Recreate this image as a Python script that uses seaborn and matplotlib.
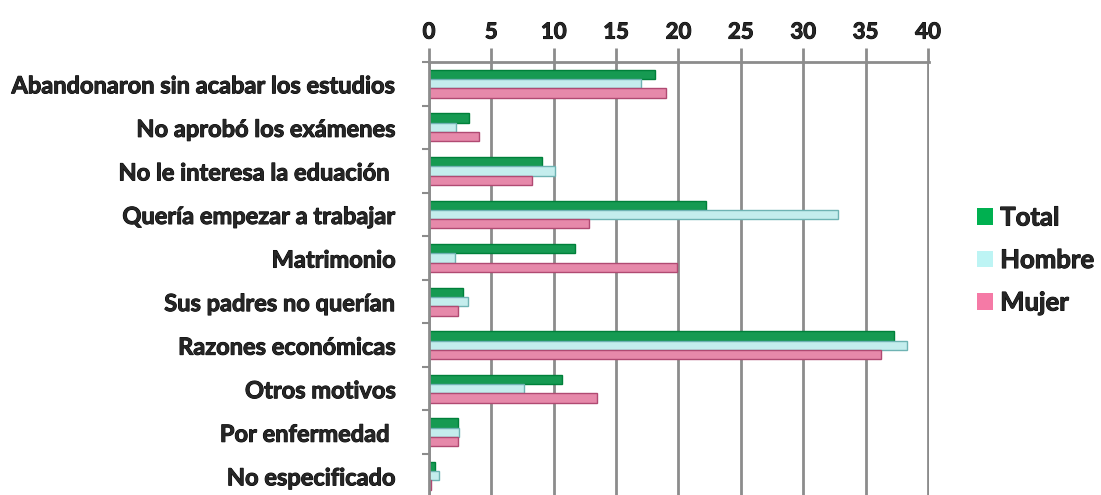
import matplotlib
matplotlib.use("Agg")
import matplotlib.pyplot as plt
import matplotlib.patheffects as pe
import seaborn as sns
import pandas as pd
from matplotlib.patches import Patch
from matplotlib.ticker import MultipleLocator, FixedLocator

# Data
motivos = [
    "Abandonaron sin acabar los estudios",
    "No aprobó los exámenes",
    "No le interesa la eduación ",
    "Quería empezar a trabajar",
    "Matrimonio",
    "Sus padres no querían",
    "Razones económicas",
    "Otros motivos",
    "Por enfermedad ",
    "No especificado",
]
total = [18.1, 3.2, 9.1, 22.2, 11.7, 2.7, 37.3, 10.7, 2.3, 0.5]
hombre = [17.0, 2.2, 10.1, 32.8, 2.1, 3.1, 38.3, 7.6, 2.4, 0.8]
mujer = [19.0, 4.0, 8.3, 12.8, 19.9, 2.3, 36.2, 13.5, 2.3, 0.2]
grupos = ["Total", "Hombre", "Mujer"]
colores = ["#00B050", "#BDF4F4", "#F57AA6"]
bordes = ["#00803A", "#6FB3B3", "#B04A72"]

df = pd.DataFrame({
    "motivo": motivos * 3,
    "valor": total + hombre + mujer,
    "grupo": [g for g in grupos for _ in motivos],
})

sns.set_style("white")
plt.rcParams["font.family"] = ["Lato", "DejaVu Sans"]
plt.rcParams["font.weight"] = "bold"

fig = plt.figure(figsize=(11.01, 4.95), dpi=100)
ax = fig.add_axes([0.3896, 0.0, 0.4541, 0.8747])

sns.barplot(data=df, y="motivo", x="valor", hue="grupo", orient="h",
            palette=colores, width=0.64, ax=ax, legend=False)

# darker outline per series, gives a bit of the 3D-bar feel
for cont, ec in zip(ax.containers, bordes):
    for bar in cont:
        bar.set_edgecolor(ec)
        bar.set_linewidth(1.0)

gris = "#8C8C8C"
ax.set_xlim(0, 40.08)
ax.set_ylim(9.44, -0.5)
ax.xaxis.set_major_locator(MultipleLocator(5))
ax.xaxis.tick_top()
ax.grid(axis="x", color=gris, linewidth=2)
ax.set_axisbelow(True)
ax.tick_params(axis="x", top=True, direction="out", length=10, width=2,
               color=gris, pad=4, labelsize=16)
ax.tick_params(axis="y", which="major", length=0, pad=24, labelsize=17)
ax.yaxis.set_minor_locator(FixedLocator([i + 0.5 for i in range(-1, 10)]))
ax.tick_params(axis="y", which="minor", left=True, length=5, width=1.5,
               color=gris, direction="out")

grueso = [pe.withStroke(linewidth=0.7, foreground="black")]
for lab in ax.get_xticklabels() + ax.get_yticklabels():
    lab.set_fontweight("bold")
    lab.set_path_effects(grueso)

for s in ["right", "bottom"]:
    ax.spines[s].set_visible(False)
for s in ["left", "top"]:
    ax.spines[s].set_color(gris)
    ax.spines[s].set_linewidth(2)
ax.set_xlabel("")
ax.set_ylabel("")

handles = [Patch(facecolor=c, edgecolor="none") for c in colores]
leg = fig.legend(handles, grupos, loc="center left",
                 bbox_to_anchor=(0.866, 0.4747), frameon=False,
                 handlelength=0.62, handleheight=0.6, handletextpad=0.3,
                 labelspacing=0.72, prop={"weight": "bold", "size": 18.5})
for t in leg.get_texts():
    t.set_path_effects(grueso)

fig.savefig("out.png", dpi=100)
